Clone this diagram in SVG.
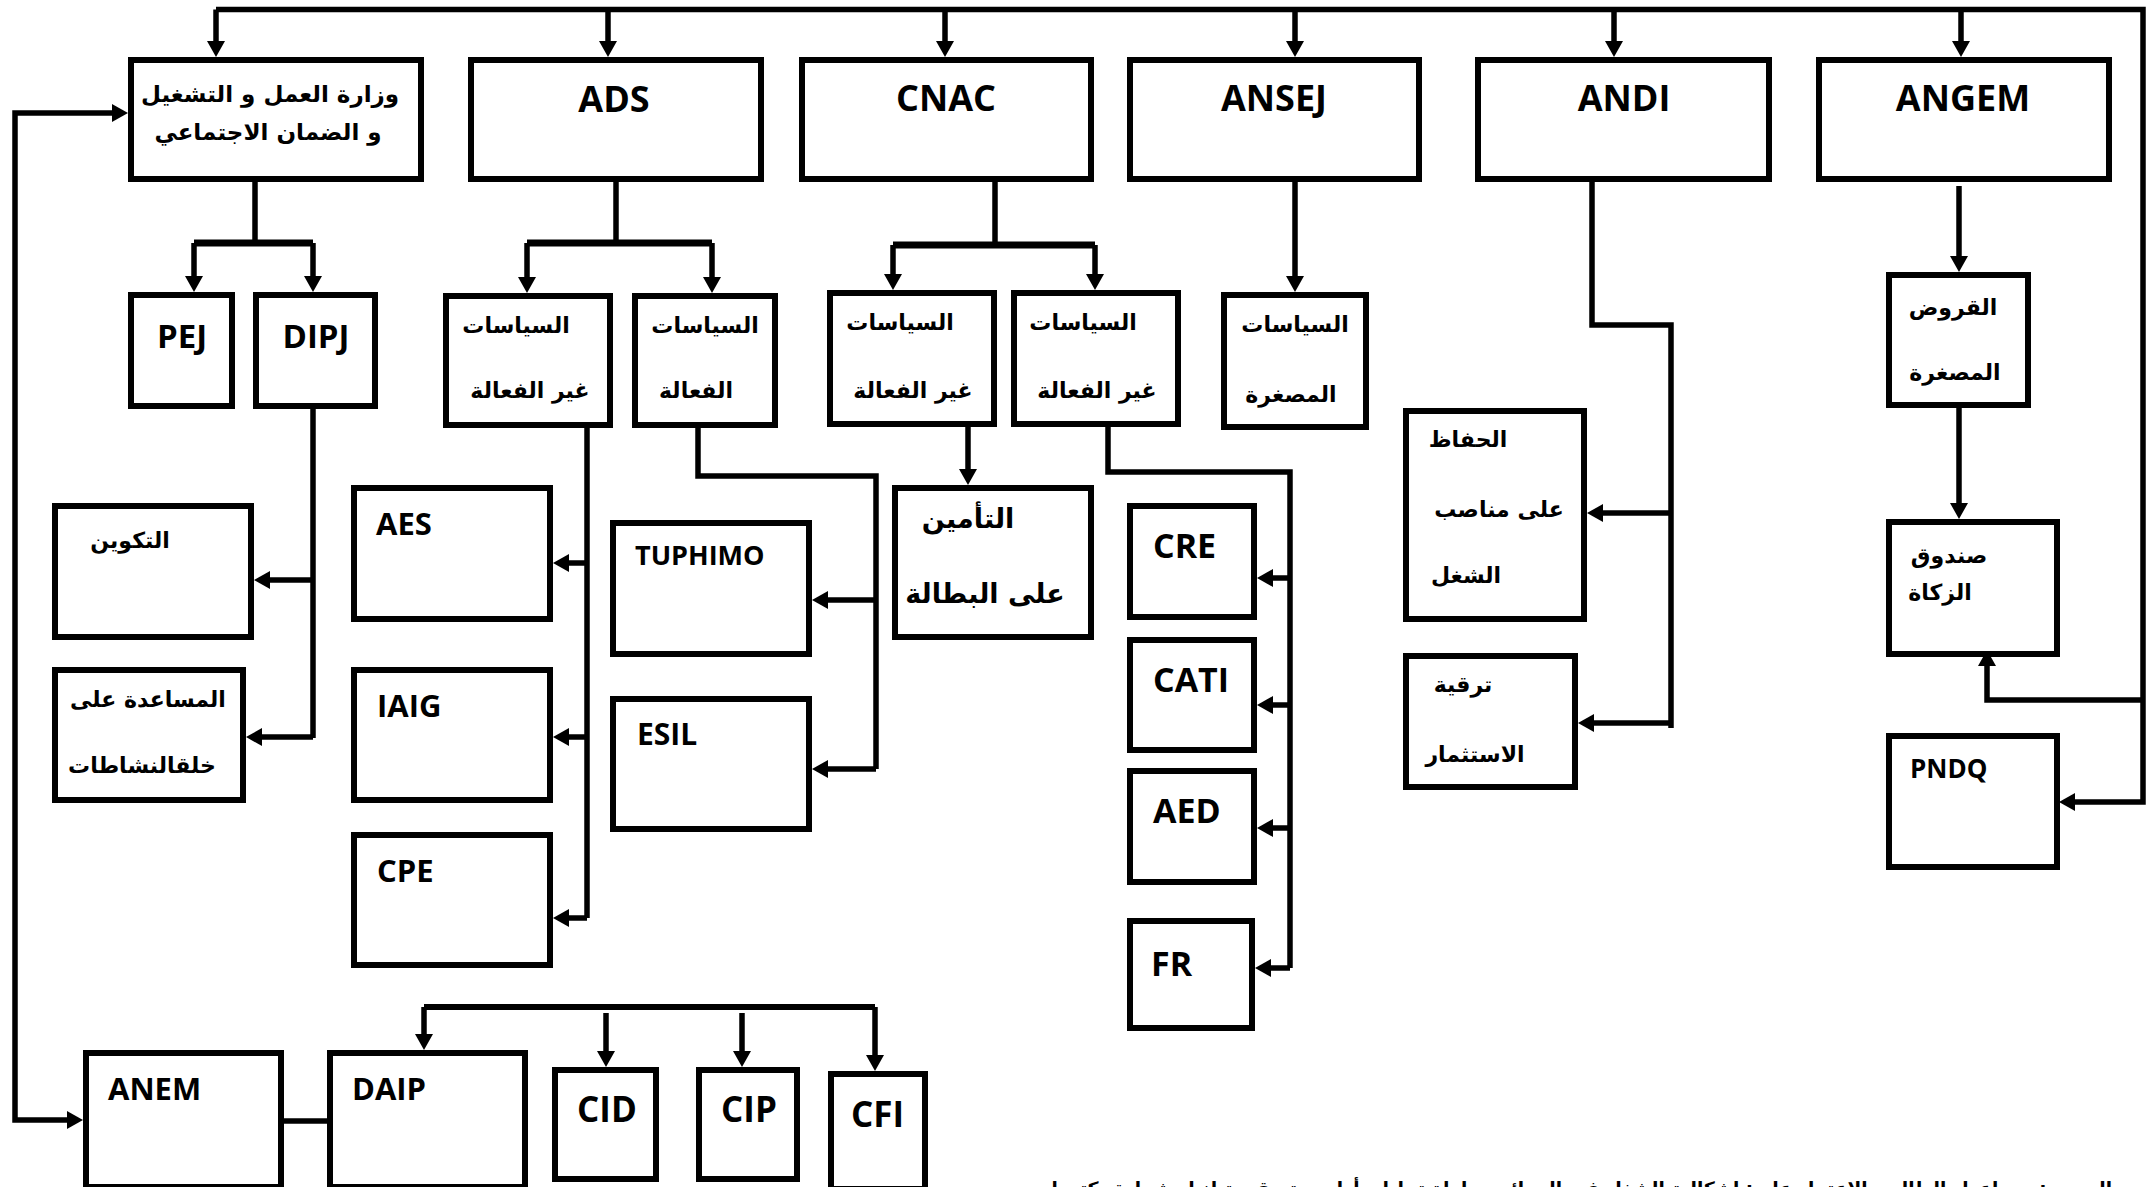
<svg xmlns="http://www.w3.org/2000/svg" width="2149" height="1187" viewBox="0 0 2149 1187">
<style>
.box{fill:#fff;stroke:#000;stroke-width:6}
.ln{fill:none;stroke:#000;stroke-width:5.5}
.ln7{fill:none;stroke:#000;stroke-width:7}
.a{marker-end:url(#ah)}
.lat{font-family:'Open Sans','DejaVu Sans',sans-serif;font-weight:700;fill:#000}
.ar{font-family:'DejaVu Sans',sans-serif;font-weight:700;fill:#000;text-anchor:middle;font-size:22px}
.c{text-anchor:middle}
</style>
<defs>
<marker id="ah" viewBox="0 0 16 18" refX="2" refY="9" markerWidth="16" markerHeight="18" markerUnits="userSpaceOnUse" orient="auto">
<path d="M0,0 L16,9 L0,18 z" fill="#000"/>
</marker>
</defs>
<rect width="2149" height="1187" fill="#fff"/>

<g id="connectors">
<path class="ln" d="M216,9.5 H2143 V802 H2074"/>
<path class="ln a" d="M2074,802 H2073"/>
<path class="ln a" d="M216,9.5 V43"/>
<path class="ln a" d="M608,9.5 V43"/>
<path class="ln a" d="M945,9.5 V43"/>
<path class="ln a" d="M1295,9.5 V43"/>
<path class="ln a" d="M1614,9.5 V43"/>
<path class="ln a" d="M1961,9.5 V43"/>
<path class="ln a" d="M2143,700 H1987 V664"/>
<path class="ln" d="M255,182 V243"/>
<path class="ln7" d="M194,243 H313"/>
<path class="ln a" d="M194,243 V278"/>
<path class="ln a" d="M313,243 V278"/>
<path class="ln" d="M616,182 V243"/>
<path class="ln7" d="M527,243 H712"/>
<path class="ln a" d="M527,243 V279"/>
<path class="ln a" d="M712,243 V279"/>
<path class="ln" d="M995,182 V245"/>
<path class="ln7" d="M893,245 H1095"/>
<path class="ln a" d="M893,245 V276"/>
<path class="ln a" d="M1095,245 V276"/>
<path class="ln a" d="M1295,182 V278"/>
<path class="ln" d="M1592,182 V325 H1671 V728"/>
<path class="ln a" d="M1671,513 H1601"/>
<path class="ln a" d="M1671,723 H1592"/>
<path class="ln a" d="M1959,186 V258"/>
<path class="ln a" d="M1959,408 V505"/>
<path class="ln" d="M313,409 V738"/>
<path class="ln a" d="M313,580 H268"/>
<path class="ln a" d="M313,737 H260"/>
<path class="ln" d="M587,428 V918"/>
<path class="ln a" d="M587,563 H567"/>
<path class="ln a" d="M587,737 H567"/>
<path class="ln a" d="M587,918 H567"/>
<path class="ln" d="M698,428 V476 H876 V769"/>
<path class="ln a" d="M876,600 H826"/>
<path class="ln a" d="M876,769 H826"/>
<path class="ln a" d="M968,427 V471"/>
<path class="ln" d="M1108,427 V472 H1290 V968"/>
<path class="ln a" d="M1290,578 H1271"/>
<path class="ln a" d="M1290,705 H1271"/>
<path class="ln a" d="M1290,828 H1271"/>
<path class="ln a" d="M1290,968 H1269"/>
<path class="ln a" d="M15,620 V113 H114"/>
<path class="ln a" d="M15,620 V1120 H69"/>
<path class="ln" d="M284,1121 H327"/>
<path class="ln" style="stroke-width:6" d="M424,1007 H875"/>
<path class="ln a" d="M424,1007 V1036"/>
<path class="ln a" d="M606,1013 V1053"/>
<path class="ln a" d="M742,1013 V1053"/>
<path class="ln a" d="M875,1007 V1057"/>
</g>

<g id="ministry"><rect class="box" x="131" y="60" width="290" height="119"/>
<text class="ar" x="270" y="102" style="font-size:23px">وزارة العمل و التشغيل</text>
<text class="ar" x="268" y="140" style="font-size:23px">و الضمان الاجتماعي</text></g>
<g id="ADS"><rect class="box" x="471" y="60" width="290" height="119"/><text class="lat c" x="614" y="112" font-size="36">ADS</text></g>
<g id="CNAC"><rect class="box" x="802" y="60" width="289" height="119"/><text class="lat c" x="946" y="111" font-size="36">CNAC</text></g>
<g id="ANSEJ"><rect class="box" x="1130" y="60" width="289" height="119"/><text class="lat c" x="1274" y="111" font-size="36">ANSEJ</text></g>
<g id="ANDI"><rect class="box" x="1478" y="60" width="291" height="119"/><text class="lat c" x="1624" y="111" font-size="36">ANDI</text></g>
<g id="ANGEM"><rect class="box" x="1819" y="60" width="290" height="119"/><text class="lat c" x="1963" y="111" font-size="36">ANGEM</text></g>

<g id="PEJ"><rect class="box" x="131" y="295" width="101" height="111"/><text class="lat c" x="182" y="348" font-size="33">PEJ</text></g>
<g id="DIPJ"><rect class="box" x="256" y="295" width="119" height="111"/><text class="lat c" x="316" y="348" font-size="33">DIPJ</text></g>
<g id="ads-inactive"><rect class="box" x="446" y="296" width="164" height="129"/>
<text class="ar" x="516" y="333">السياسات</text><text class="ar" x="530" y="398">غير الفعالة</text></g>
<g id="ads-active"><rect class="box" x="635" y="296" width="140" height="129"/>
<text class="ar" x="705" y="333">السياسات</text><text class="ar" x="696" y="398">الفعالة</text></g>
<g id="cnac-inactive-1"><rect class="box" x="830" y="293" width="164" height="131"/>
<text class="ar" x="900" y="330">السياسات</text><text class="ar" x="913" y="398">غير الفعالة</text></g>
<g id="cnac-inactive-2"><rect class="box" x="1014" y="293" width="164" height="131"/>
<text class="ar" x="1083" y="330">السياسات</text><text class="ar" x="1097" y="398">غير الفعالة</text></g>
<g id="ansej-micro"><rect class="box" x="1224" y="295" width="142" height="132"/>
<text class="ar" x="1295" y="332">السياسات</text><text class="ar" x="1291" y="402">المصغرة</text></g>
<g id="microcredit"><rect class="box" x="1889" y="275" width="139" height="130"/>
<text class="ar" x="1953" y="315">القروض</text><text class="ar" x="1955" y="380">المصغرة</text></g>

<g id="takwin"><rect class="box" x="55" y="506" width="196" height="131"/><text class="ar" x="130" y="548">التكوين</text></g>
<g id="musaada"><rect class="box" x="55" y="670" width="188" height="130"/>
<text class="ar" x="148" y="707">المساعدة على</text><text class="ar" x="142" y="773">خلقالنشاطات</text></g>
<g id="AES"><rect class="box" x="354" y="488" width="196" height="131"/><text class="lat" x="376" y="535" font-size="31">AES</text></g>
<g id="IAIG"><rect class="box" x="354" y="670" width="196" height="130"/><text class="lat" x="377" y="717" font-size="31">IAIG</text></g>
<g id="CPE"><rect class="box" x="354" y="835" width="196" height="130"/><text class="lat" x="377" y="882" font-size="31">CPE</text></g>
<g id="TUPHIMO"><rect class="box" x="613" y="523" width="196" height="131"/><text class="lat" x="635" y="565" font-size="27">TUPHIMO</text></g>
<g id="ESIL"><rect class="box" x="613" y="699" width="196" height="130"/><text class="lat" x="637" y="745" font-size="30">ESIL</text></g>
<g id="tamin"><rect class="box" x="895" y="488" width="196" height="149"/>
<text class="ar" x="968" y="528" style="font-size:27px">التأمين</text><text class="ar" x="985" y="603" style="font-size:27px">على البطالة</text></g>
<g id="CRE"><rect class="box" x="1130" y="506" width="124" height="111"/><text class="lat" x="1153" y="558" font-size="34">CRE</text></g>
<g id="CATI"><rect class="box" x="1130" y="640" width="124" height="110"/><text class="lat" x="1153" y="692" font-size="34">CATI</text></g>
<g id="AED"><rect class="box" x="1130" y="771" width="124" height="111"/><text class="lat" x="1153" y="823" font-size="34">AED</text></g>
<g id="FR"><rect class="box" x="1130" y="921" width="122" height="107"/><text class="lat" x="1151" y="976" font-size="34">FR</text></g>
<g id="hifath"><rect class="box" x="1406" y="411" width="178" height="208"/>
<text class="ar" x="1468" y="447">الحفاظ</text><text class="ar" x="1499" y="517">على مناصب</text><text class="ar" x="1466" y="583">الشغل</text></g>
<g id="tarqiya"><rect class="box" x="1406" y="656" width="169" height="131"/>
<text class="ar" x="1463" y="692">ترقية</text><text class="ar" x="1475" y="762">الاستثمار</text></g>
<g id="zakat"><rect class="box" x="1889" y="522" width="168" height="132"/>
<text class="ar" x="1949" y="563">صندوق</text><text class="ar" x="1940" y="600">الزكاة</text></g>
<g id="PNDQ"><rect class="box" x="1889" y="736" width="168" height="131"/><text class="lat" x="1910" y="778" font-size="26">PNDQ</text></g>

<g id="ANEM"><rect class="box" x="86" y="1053" width="195" height="134"/><text class="lat" x="108" y="1100" font-size="31">ANEM</text></g>
<g id="DAIP"><rect class="box" x="330" y="1053" width="195" height="134"/><text class="lat" x="352" y="1100" font-size="31">DAIP</text></g>
<g id="CID"><rect class="box" x="555" y="1070" width="101" height="109"/><text class="lat" x="577" y="1122" font-size="35">CID</text></g>
<g id="CIP"><rect class="box" x="699" y="1070" width="98" height="109"/><text class="lat" x="721" y="1122" font-size="35">CIP</text></g>
<g id="CFI"><rect class="box" x="831" y="1074" width="94" height="115"/><text class="lat" x="851" y="1127" font-size="35">CFI</text></g>

<text class="ar" x="2112" y="1195" style="font-size:18.5px;text-anchor:start" direction="rtl">المصدر: من إعداد الطالب بالاعتماد على: إشكالية الشغل في الجزائر محاولة تحليل، أطروحة مقدمة لنيل شهادة دكتوراه</text>
</svg>
